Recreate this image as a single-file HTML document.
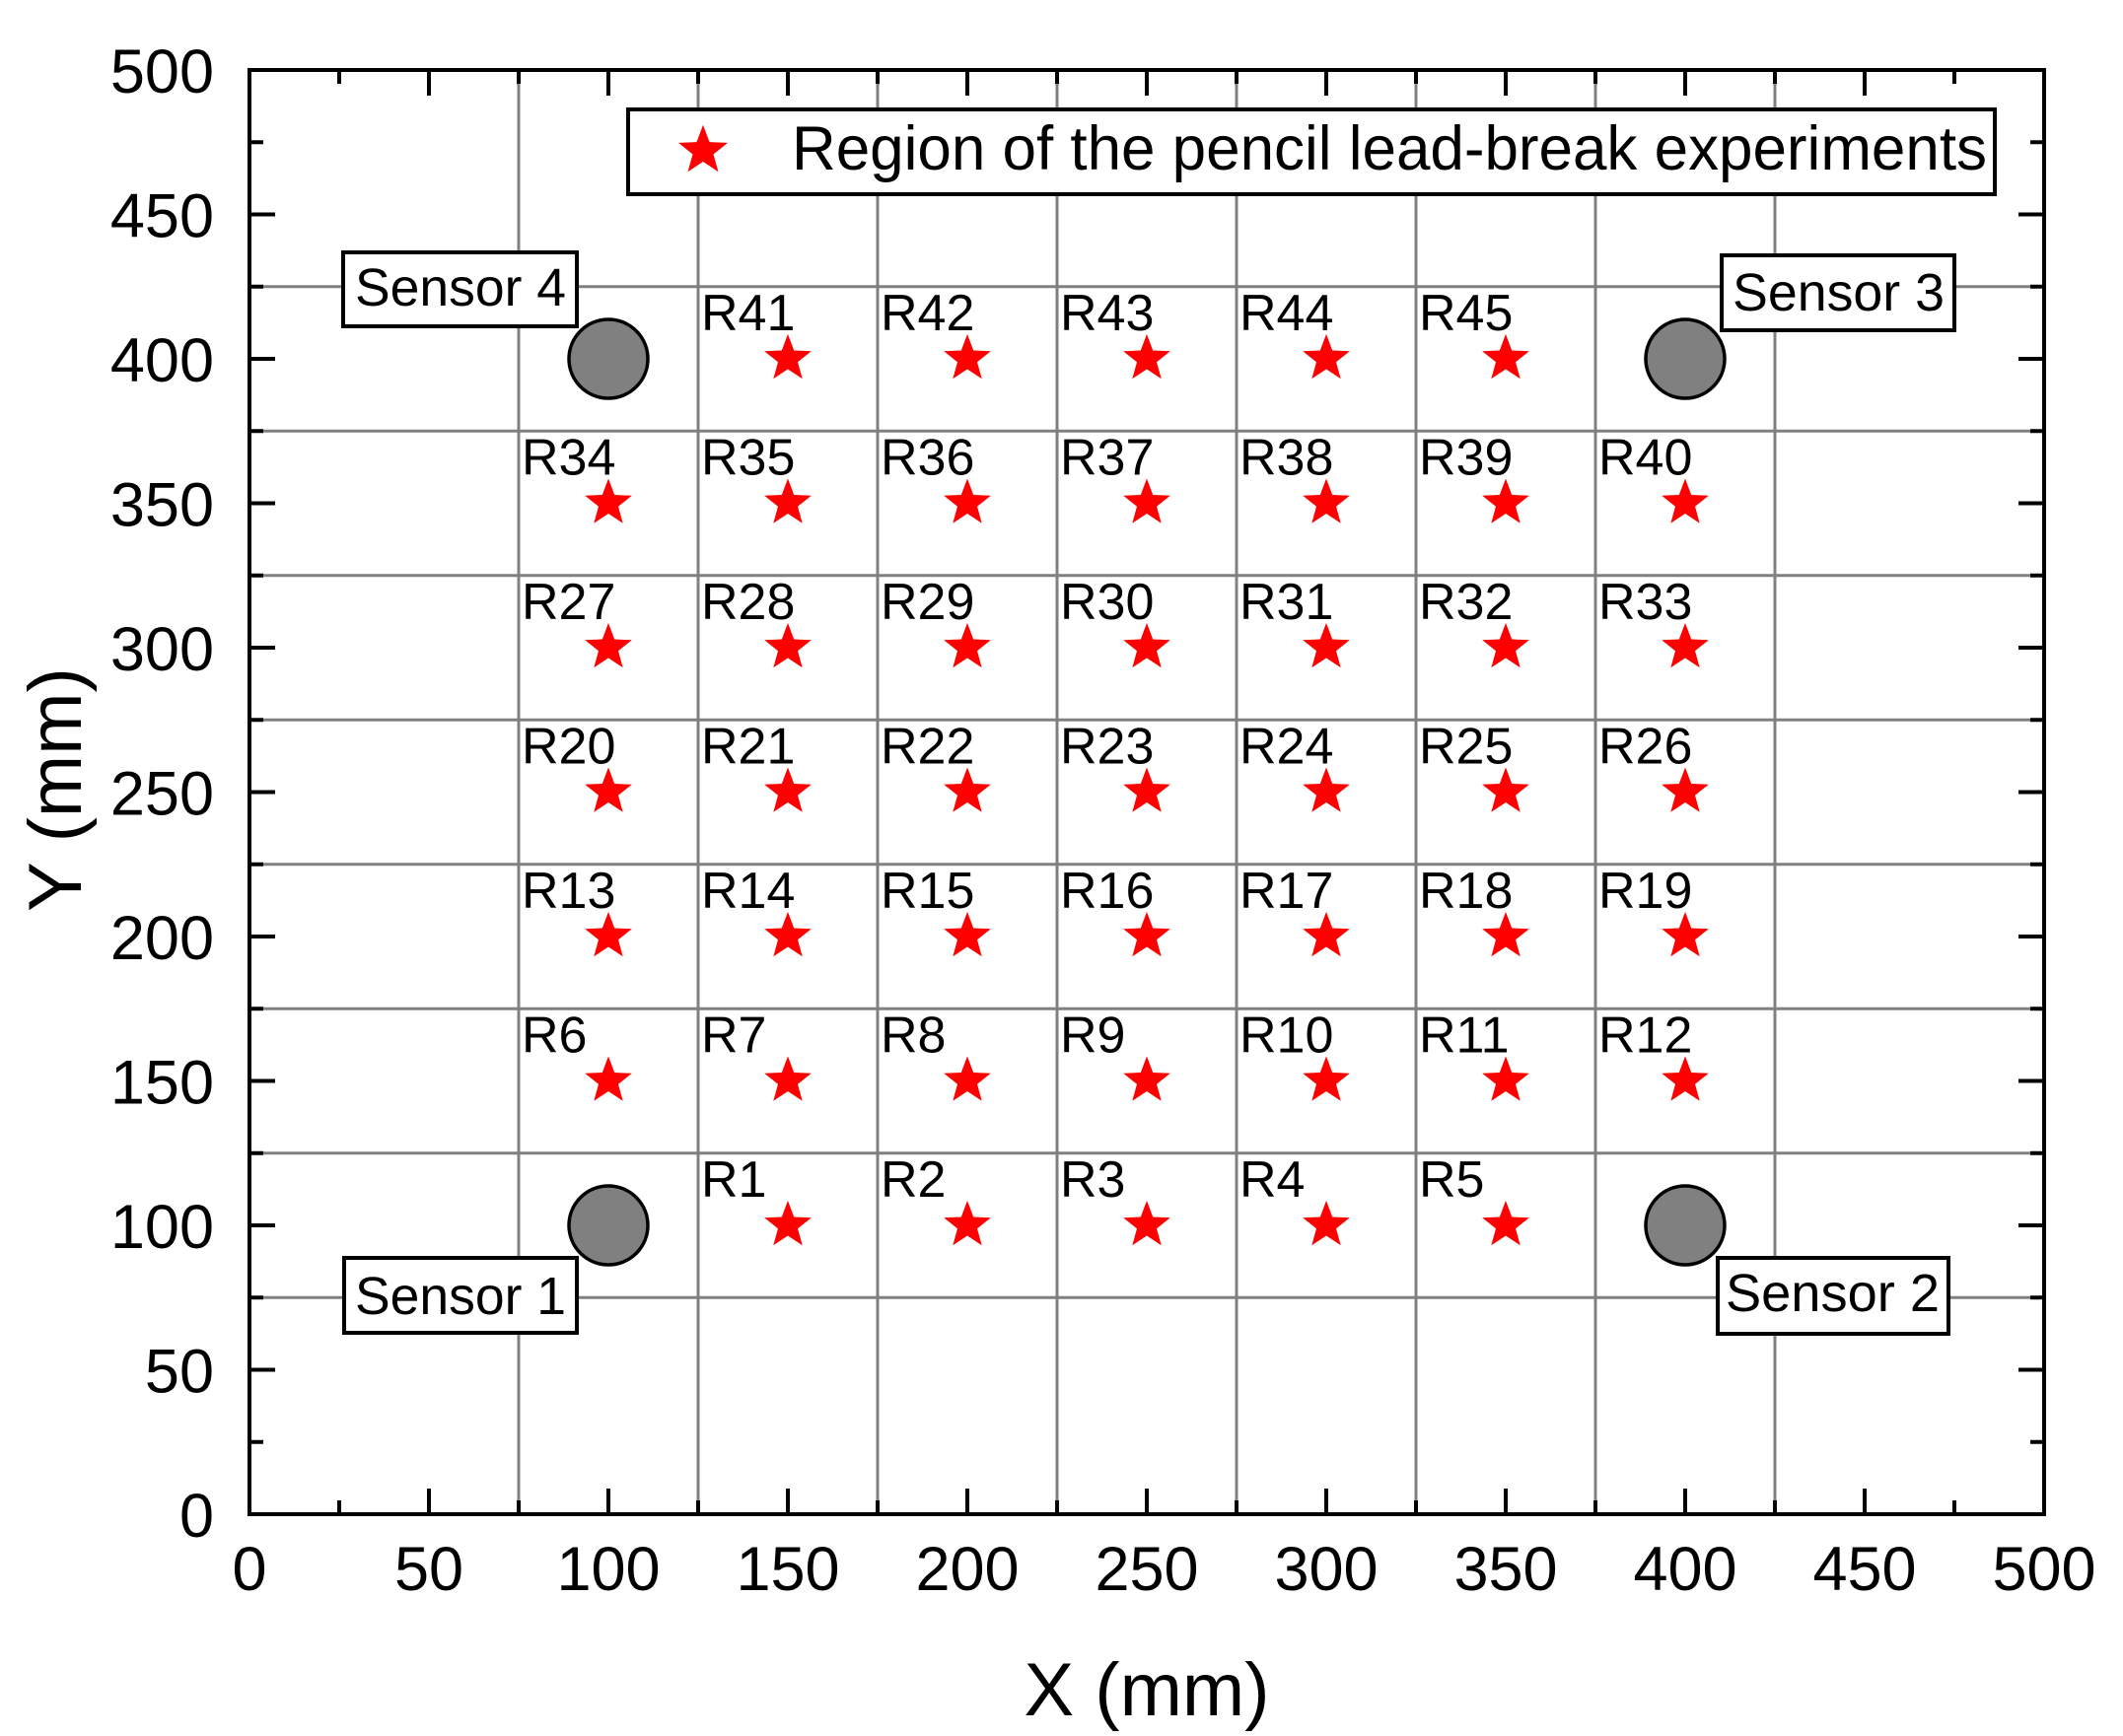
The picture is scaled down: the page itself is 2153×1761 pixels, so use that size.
<!DOCTYPE html>
<html><head><meta charset="utf-8"><style>html,body{margin:0;padding:0;background:#fff}svg{display:block}</style></head>
<body>
<svg xmlns="http://www.w3.org/2000/svg" width="2153" height="1761" viewBox="0 0 2153 1761" font-family="Liberation Sans, Arial, sans-serif">
<defs>
<path id="st" d="M0,-25 L6.2,-8.5 L23.8,-7.7 L10,3.3 L14.7,20.2 L0,10.5 L-14.7,20.2 L-10,3.3 L-23.8,-7.7 L-6.2,-8.5 Z" fill="#ff0000"/>
</defs>
<rect width="2153" height="1761" fill="#fff"/>
<g id="grid" stroke="#808080" stroke-width="3"></g>
<g id="ticks" stroke="#000" stroke-width="4"></g>
<rect x="253" y="71" width="1820" height="1465" fill="none" stroke="#000" stroke-width="4"/>
<g id="ylab" font-size="63" text-anchor="end" fill="#000"></g>
<g id="xlab" font-size="63" text-anchor="middle" fill="#000"></g>
<g id="pts"></g>
<g fill="#808080" stroke="#000" stroke-width="3.5">
<circle cx="617" cy="1243" r="40"/><circle cx="1709" cy="1243" r="40"/>
<circle cx="617" cy="364" r="40"/><circle cx="1709" cy="364" r="40"/>
</g>
<g fill="#fff" stroke="#000" stroke-width="4">
<rect x="348" y="256" width="237" height="75"/>
<rect x="1746" y="259" width="236" height="76"/>
<rect x="349" y="1276" width="236" height="76"/>
<rect x="1742" y="1276" width="234" height="77"/>
<rect x="637" y="111" width="1386" height="86"/>
</g>
<g font-size="54" fill="#000">
<text x="360" y="310" textLength="214" lengthAdjust="spacingAndGlyphs">Sensor 4</text>
<text x="1757" y="315" textLength="215" lengthAdjust="spacingAndGlyphs">Sensor 3</text>
<text x="360" y="1333" textLength="214" lengthAdjust="spacingAndGlyphs">Sensor 1</text>
<text x="1750" y="1330" textLength="217" lengthAdjust="spacingAndGlyphs">Sensor 2</text>
<text x="803" y="172" font-size="63" textLength="1212" lengthAdjust="spacingAndGlyphs">Region of the pencil lead-break experiments</text>
</g>
<use href="#st" transform="translate(713,153) scale(1.05)"/>
<text x="1163" y="1740" font-size="76" text-anchor="middle">X (mm)</text>
<text transform="translate(82,801) rotate(-90)" font-size="76" text-anchor="middle">Y (mm)</text>
<script>
(function(){
var NS="http://www.w3.org/2000/svg";
function X(v){return 253+v*3.64;} function Y(v){return 1536-v*2.93;}
function el(p,t,a,txt){var e=document.createElementNS(NS,t);for(var k in a)e.setAttribute(k,a[k]);if(txt!=null)e.textContent=txt;document.getElementById(p).appendChild(e);return e;}
for(var v=75;v<=425;v+=50){
 el("grid","line",{x1:X(v),x2:X(v),y1:71,y2:1536});
 el("grid","line",{x1:253,x2:2073,y1:Y(v),y2:Y(v)});
}
for(var v=25;v<500;v+=25){
 var L=(v%50==0)?26:14;
 el("ticks","line",{x1:X(v),x2:X(v),y1:1536,y2:1536-L});
 el("ticks","line",{x1:X(v),x2:X(v),y1:71,y2:71+L});
 el("ticks","line",{x1:253,x2:253+L,y1:Y(v),y2:Y(v)});
 el("ticks","line",{x1:2073,x2:2073-L,y1:Y(v),y2:Y(v)});
}
for(var v=0;v<=500;v+=50){
 el("ylab","text",{x:217,y:Y(v)+23},String(v));
 el("xlab","text",{x:X(v),y:1613},String(v));
}
var n=1;
var rows=[[100,[150,200,250,300,350]],[150,[100,150,200,250,300,350,400]],[200,[100,150,200,250,300,350,400]],[250,[100,150,200,250,300,350,400]],[300,[100,150,200,250,300,350,400]],[350,[100,150,200,250,300,350,400]],[400,[150,200,250,300,350]]];
rows.forEach(function(r){r[1].forEach(function(x){
 el("pts","use",{href:"#st",transform:"translate("+X(x)+","+Y(r[0])+")"});
 el("pts","text",{x:X(x-25)+3,y:Y(r[0])-29,"font-size":52,fill:"#000"},"R"+n);
 n++;});});
})();
</script>
</svg>
</body></html>
